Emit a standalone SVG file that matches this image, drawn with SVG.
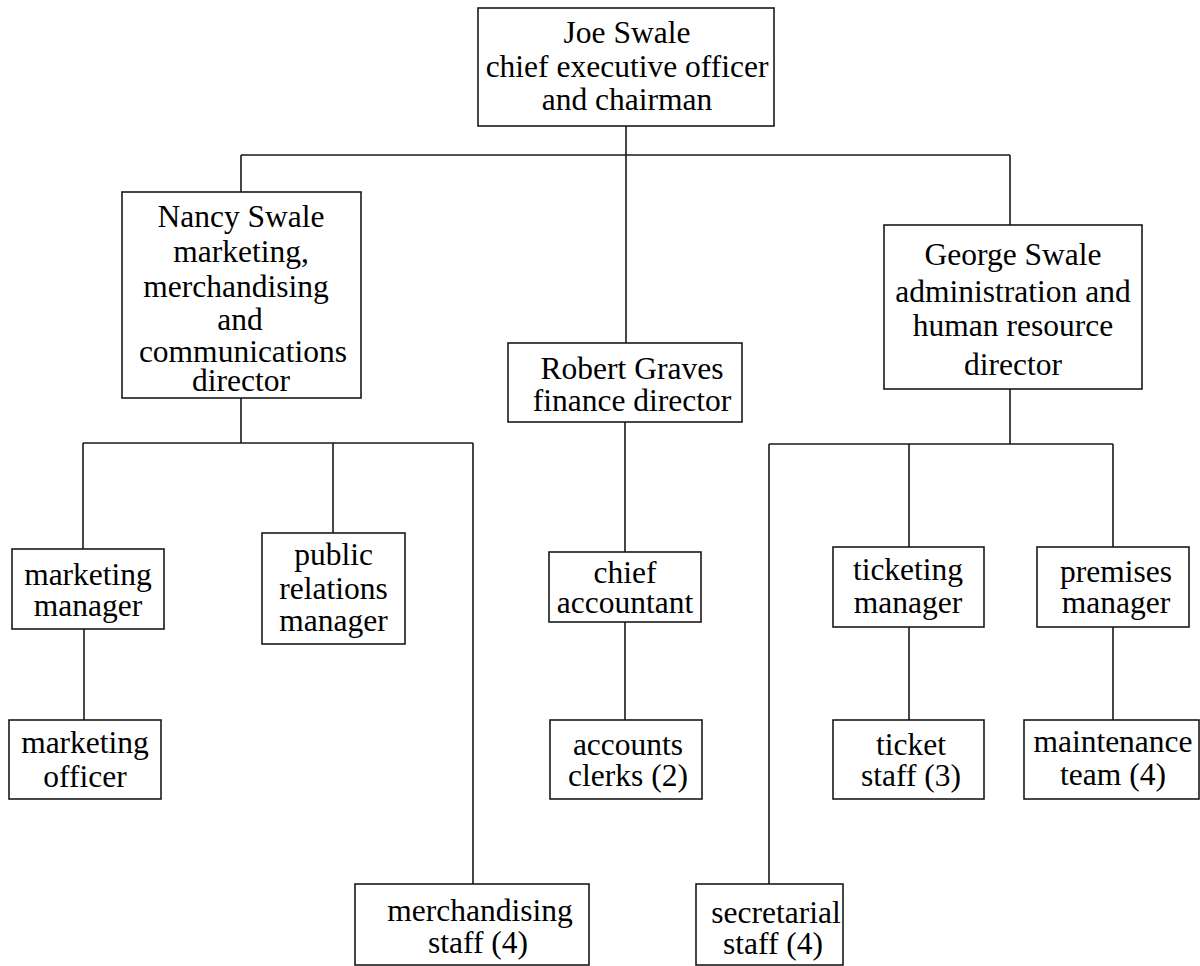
<svg xmlns="http://www.w3.org/2000/svg" width="1200" height="966" viewBox="0 0 1200 966">
<style>
.box{fill:#fff;stroke:#1a1a1a;stroke-width:1.6}
.conn{fill:none;stroke:#1a1a1a;stroke-width:1.6}
text{font-family:"Liberation Serif","Times New Roman","DejaVu Serif",serif;font-size:31.5px;fill:#000;text-anchor:middle}
</style>
<rect width="1200" height="966" fill="#fff"/>
<g id="connectors" class="conn">
<path d="M626 126V155M241 155H1010M241 155V192M626 155V343M1010 155V225"/>
<path d="M241 398V443M83 443H473M83 443V549M333 443V533M473 443V884"/>
<path d="M84 629V720"/>
<path d="M625 422V552M625 622V720"/>
<path d="M1010 389V444M769 444H1113M769 444V884M909 444V547M1113 444V547M909 627V720M1113 627V720"/>
</g>
<g id="joe"><rect class="box" x="478" y="8" width="296" height="118"/>
<text x="627" y="43">Joe Swale</text><text x="627" y="77">chief executive officer</text><text x="627" y="110">and chairman</text></g>
<g id="nancy"><rect class="box" x="122" y="192" width="239" height="206"/>
<text x="241" y="227">Nancy Swale</text><text x="241" y="262">marketing,</text><text x="236" y="297">merchandising</text><text x="240" y="330">and</text><text x="243" y="362">communications</text><text x="241" y="391">director</text></g>
<g id="robert"><rect class="box" x="508" y="343" width="234" height="79"/>
<text x="632" y="379">Robert Graves</text><text x="632" y="411">finance director</text></g>
<g id="george"><rect class="box" x="884" y="225" width="258" height="164"/>
<text x="1013" y="265">George Swale</text><text x="1013" y="302">administration and</text><text x="1013" y="336">human resource</text><text x="1013" y="375">director</text></g>
<g id="marketing-manager"><rect class="box" x="12" y="549" width="152" height="80"/>
<text x="88" y="585">marketing</text><text x="88" y="616">manager</text></g>
<g id="public-relations-manager"><rect class="box" x="262" y="533" width="143" height="111"/>
<text x="333.5" y="565">public</text><text x="333.5" y="599">relations</text><text x="333.5" y="631">manager</text></g>
<g id="marketing-officer"><rect class="box" x="9" y="720" width="152" height="79"/>
<text x="85" y="753">marketing</text><text x="85" y="787">officer</text></g>
<g id="chief-accountant"><rect class="box" x="549" y="552" width="152" height="70"/>
<text x="625" y="583">chief</text><text x="625" y="613">accountant</text></g>
<g id="accounts-clerks"><rect class="box" x="550" y="720" width="152" height="79"/>
<text x="628" y="755">accounts</text><text x="628" y="786">clerks (2)</text></g>
<g id="ticketing-manager"><rect class="box" x="833" y="547" width="151" height="80"/>
<text x="908" y="580">ticketing</text><text x="908" y="613">manager</text></g>
<g id="premises-manager"><rect class="box" x="1037" y="547" width="152" height="80"/>
<text x="1116" y="582">premises</text><text x="1116" y="613">manager</text></g>
<g id="ticket-staff"><rect class="box" x="833" y="720" width="151" height="79"/>
<text x="911" y="755">ticket</text><text x="911" y="786">staff (3)</text></g>
<g id="maintenance-team"><rect class="box" x="1024" y="720" width="175" height="79"/>
<text x="1113" y="752">maintenance</text><text x="1113" y="785">team (4)</text></g>
<g id="merchandising-staff"><rect class="box" x="355" y="884" width="234" height="81"/>
<text x="480" y="921">merchandising</text><text x="478" y="953">staff (4)</text></g>
<g id="secretarial-staff"><rect class="box" x="696" y="884" width="147" height="81"/>
<text x="776" y="923">secretarial</text><text x="773" y="954">staff (4)</text></g>
</svg>
